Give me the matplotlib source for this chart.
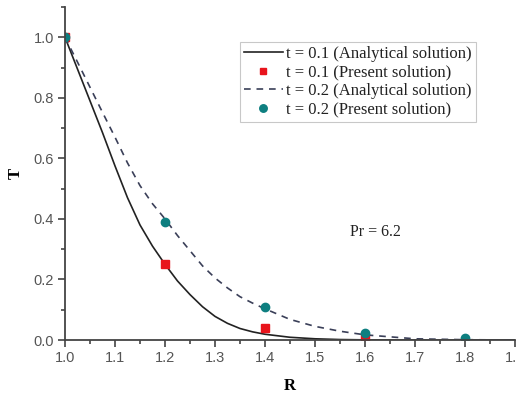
import matplotlib
matplotlib.use("Agg")
import matplotlib.pyplot as plt
from matplotlib.ticker import MultipleLocator

# Analytical solution curves
R_curve = [1.0, 1.025, 1.05, 1.075, 1.1, 1.125, 1.15, 1.175, 1.2, 1.225, 1.25, 1.275, 1.3,
           1.325, 1.35, 1.375, 1.4, 1.45, 1.5, 1.55, 1.6, 1.7, 1.8, 1.9]
T_an_01 = [1.0, 0.895, 0.79, 0.685, 0.575, 0.47, 0.38, 0.31, 0.25, 0.195, 0.15, 0.11, 0.078,
           0.055, 0.038, 0.027, 0.019, 0.009, 0.004, 0.0015, 0.0005, 0.0, 0.0, 0.0]
T_an_02 = [1.0, 0.918, 0.835, 0.752, 0.67, 0.585, 0.51, 0.45, 0.40, 0.345, 0.295, 0.245, 0.205,
           0.172, 0.143, 0.122, 0.103, 0.068, 0.045, 0.029, 0.017, 0.004, 0.001, 0.0]

# Present (numerical) solution points
R_pts01 = [1.0, 1.2, 1.4, 1.6]
T_pts01 = [1.0, 0.25, 0.04, 0.005]
R_pts02 = [1.0, 1.2, 1.4, 1.6, 1.8]
T_pts02 = [1.0, 0.39, 0.108, 0.022, 0.005]

x_ticks = [1.0, 1.1, 1.2, 1.3, 1.4, 1.5, 1.6, 1.7, 1.8, 1.9]
x_labels = ['1.0', '1.1', '1.2', '1.3', '1.4', '1.5', '1.6', '1.7', '1.8', '1.9']
y_ticks = [0.0, 0.2, 0.4, 0.6, 0.8, 1.0]
y_labels = ['0.0', '0.2', '0.4', '0.6', '0.8', '1.0']

fig = plt.figure(figsize=(5.16, 3.93), dpi=100)
ax = fig.add_axes([65/516, 1-340/393, 450/516, 333/393])

ax.plot(R_curve, T_an_01, color='#222222', lw=1.2, label='t = 0.1 (Analytical solution)')
ax.plot(R_pts01, T_pts01, 's', color='#e8141c', ms=5.5, ls='none', label='t = 0.1 (Present solution)')
ax.plot(R_curve, T_an_02, color='#3a3f58', lw=1.2, ls=(0, (4, 3.5)), label='t = 0.2 (Analytical solution)')
ax.plot(R_pts02, T_pts02, 'o', color='#0e7f80', ms=6, ls='none', label='t = 0.2 (Present solution)')

ax.set_xlim(1.0, 1.9)
ax.set_ylim(0.0, 1.1)
for s in ['top', 'right']:
    ax.spines[s].set_visible(False)
for s in ['left', 'bottom']:
    ax.spines[s].set_color('#444444')
    ax.spines[s].set_linewidth(1.3)

ax.xaxis.set_minor_locator(MultipleLocator(0.05))
ax.yaxis.set_minor_locator(MultipleLocator(0.1))
ax.tick_params(which='both', direction='out', color='#444444', width=1.2)
ax.tick_params(which='major', length=5, labelsize=10.5, labelcolor='#555555', pad=3)
ax.tick_params(which='minor', length=3)
ax.set_xticks(x_ticks)
ax.set_xticklabels(x_labels, family='Liberation Sans')
ax.set_yticks(y_ticks)
ax.set_yticklabels(y_labels, family='Liberation Sans')

ax.set_xlabel('R', family='Liberation Serif', fontweight='bold', fontsize=12, labelpad=9)
ax.set_ylabel('T', family='Liberation Serif', fontweight='bold', fontsize=12, labelpad=7, rotation=90)

ax.text(1.62, 0.356, 'Pr = 6.2', family='Liberation Serif', fontsize=11.5, ha='center', va='center',
        color='#222222')

leg = ax.legend(loc='upper left', bbox_to_anchor=((240-65)/450, 1 - (42-7)/333),
                prop={'family': 'Liberation Serif', 'size': 12}, frameon=True, fancybox=False,
                edgecolor='#bbbbbb', handlelength=2.3, handletextpad=0.2, borderpad=0.25,
                labelspacing=0.15, borderaxespad=0, markerscale=0.9)
leg.get_frame().set_linewidth(0.8)
for t in leg.get_texts():
    t.set_color('#222222')

fig.savefig('out.png', dpi=100)
